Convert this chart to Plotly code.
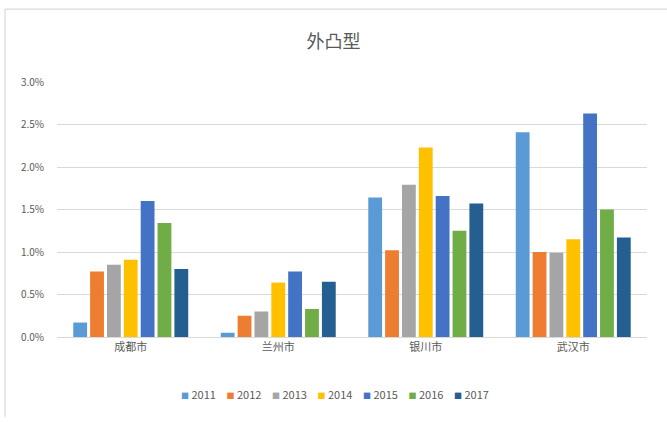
import plotly.graph_objects as go

cities = ["成都市", "兰州市", "银川市", "武汉市"]
years = ["2011", "2012", "2013", "2014", "2015", "2016", "2017"]
v2011 = [0.0017, 0.0005, 0.0164, 0.0241]
v2012 = [0.0077, 0.0025, 0.0102, 0.0100]
v2013 = [0.0085, 0.0030, 0.0179, 0.0099]
v2014 = [0.0091, 0.0064, 0.0223, 0.0115]
v2015 = [0.0160, 0.0077, 0.0166, 0.0263]
v2016 = [0.0134, 0.0033, 0.0125, 0.0150]
v2017 = [0.0080, 0.0065, 0.0157, 0.0117]
series = [v2011, v2012, v2013, v2014, v2015, v2016, v2017]
colors = ["#5B9BD5", "#ED7D31", "#A5A5A5", "#FFC000", "#4472C4", "#70AD47", "#255E91"]

W, H = 667, 422
ml, mr, mt, mb = 57, 20, 82, 81

fig = go.Figure()
for y, vals, c in zip(years, series, colors):
    fig.add_trace(go.Bar(name=y, x=cities, y=vals, legendgroup=y, showlegend=False,
                         marker=dict(color=c, line=dict(width=0))))
# compact legend entries (Excel-like small squares)
for y, c in zip(years, colors):
    fig.add_trace(go.Scatter(x=[None], y=[None], mode="markers", legendgroup=y,
                             marker=dict(size=1, color="rgba(0,0,0,0)"),
                             name=f'<span style="color:{c};font-size:8px">■</span> {y}'))
fig.add_trace(go.Scatter(x=[None], y=[None], mode="markers",
                         marker=dict(size=1, color="rgba(0,0,0,0)"),
                         name="  ", hoverinfo="skip"))

font = "Noto Sans CJK SC, Noto Sans, sans-serif"
fig.update_layout(
    width=W, height=H,
    margin=dict(l=ml, r=mr, t=mt, b=mb),
    paper_bgcolor="white", plot_bgcolor="white",
    barmode="group", bargap=0.2, bargroupgap=0.18,
    font=dict(family=font, color="#595959"),
    title=dict(text="外凸型", x=0.5, xanchor="center", y=1 - 42 / H, yanchor="middle",
               font=dict(size=18, color="#595959", family=font)),
    yaxis=dict(range=[0, 0.03], dtick=0.005, tickformat=".1%", showgrid=True,
               gridcolor="#D9D9D9", gridwidth=1, zeroline=False, showline=False,
               tickfont=dict(size=10, color="#595959"), ticks="", ticklabelstandoff=12),
    xaxis=dict(showline=True, linecolor="#D9D9D9", linewidth=1, ticks="",
               tickfont=dict(size=11, color="#595959")),
    legend=dict(orientation="h", x=(183 - 42 - ml) / (W - ml - mr), xanchor="left",
                y=(H - mb - 400) / (H - mt - mb),
                yanchor="middle", font=dict(size=11, color="#595959"),
                itemwidth=30, entrywidth=0.5, entrywidthmode="pixels", traceorder="normal"),
    showlegend=True,
)
ph = H - mt - mb
pw = W - ml - mr
fig.add_shape(type="line", xref="paper", yref="paper",
              x0=(5 - ml) / pw, x1=(W - ml) / pw, y0=(H - mb - 8) / ph, y1=(H - mb - 8) / ph,
              line=dict(color="#D0D0D0", width=1))
fig.add_shape(type="line", xref="paper", yref="paper",
              x0=(5 - ml) / pw, x1=(5 - ml) / pw, y0=(H - mb - 8) / ph, y1=(H - mb - H) / ph,
              line=dict(color="#D0D0D0", width=1))
fig.write_html("out.html")
